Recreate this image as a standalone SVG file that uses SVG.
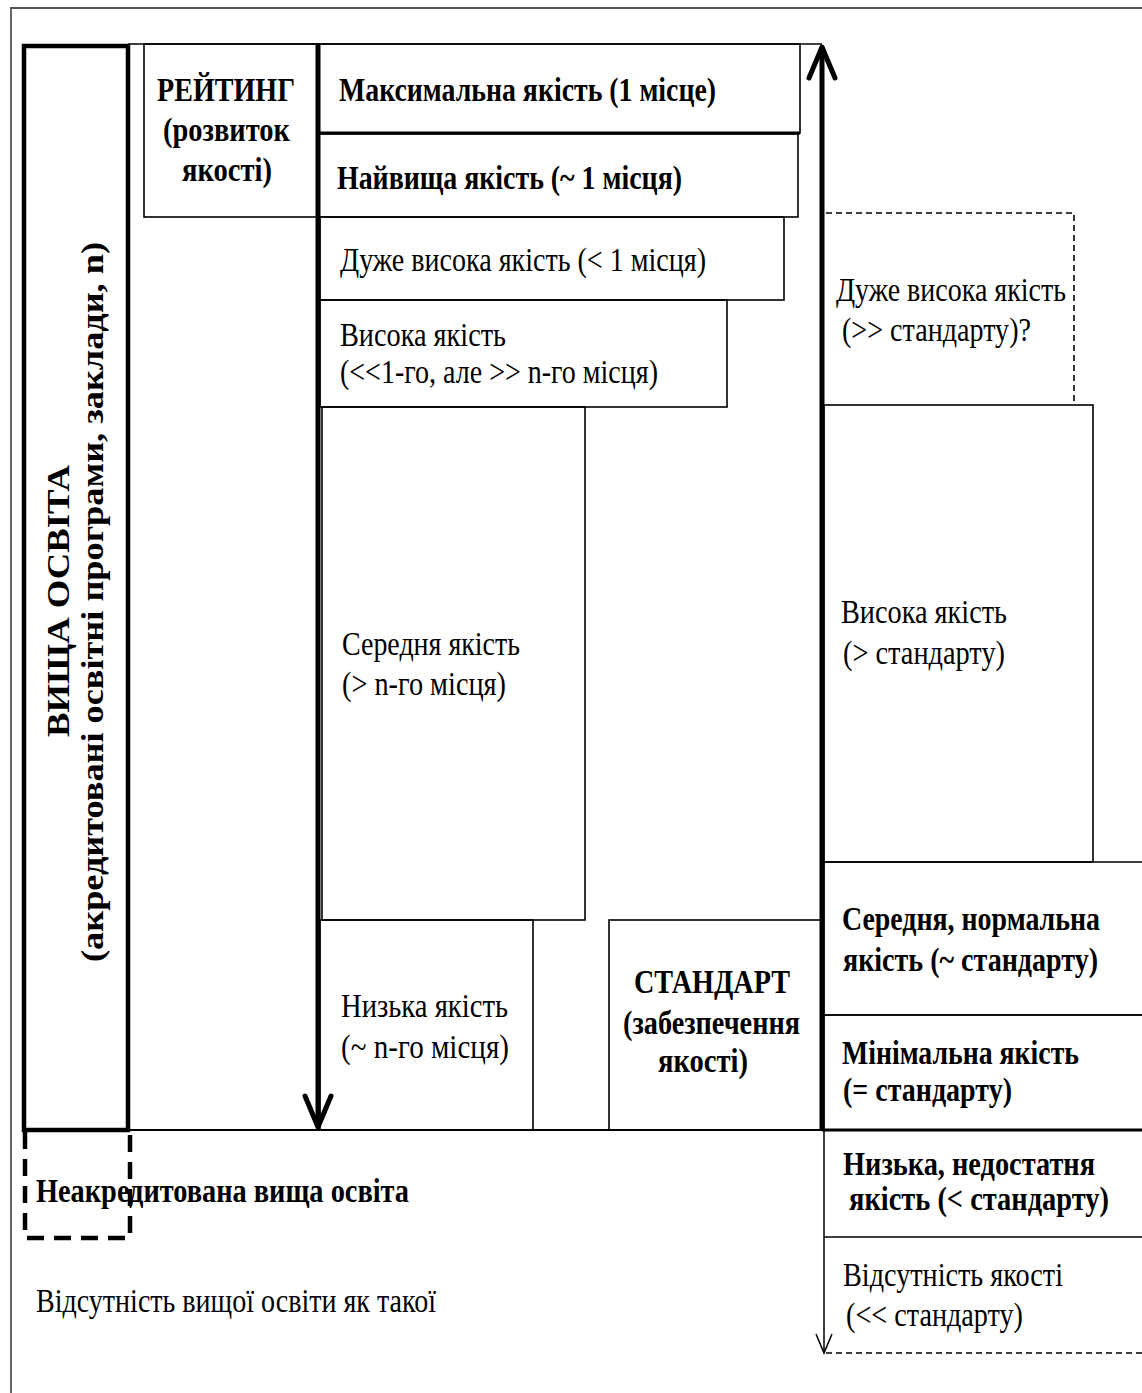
<svg xmlns="http://www.w3.org/2000/svg" width="1142" height="1393" viewBox="0 0 1142 1393">
<style>
.box{fill:none;stroke:#000;stroke-width:1.6}
.thick{fill:none;stroke:#000;stroke-width:3}
.dash{fill:none;stroke:#000;stroke-width:1.6;stroke-dasharray:6 4}
.b{font-family:"Liberation Serif","Times New Roman",serif;font-size:29px;font-weight:bold;fill:#000}
.r{font-family:"Liberation Serif","Times New Roman",serif;font-size:29px;fill:#000}
.v{font-family:"Liberation Serif","Times New Roman",serif;font-size:36px;font-weight:bold;fill:#000}
</style>
<defs>
<marker id="chev" markerUnits="userSpaceOnUse" markerWidth="40" markerHeight="40" refX="0" refY="0" orient="auto" overflow="visible">
<path d="M-31,-13 L0,0 L-31,13" fill="none" stroke="#000" stroke-width="5" stroke-linecap="round" stroke-linejoin="round"/>
</marker>
<marker id="thin" markerUnits="userSpaceOnUse" markerWidth="30" markerHeight="30" refX="0" refY="0" orient="auto" overflow="visible">
<path d="M-19,-8 L0,0 L-19,8" fill="none" stroke="#000" stroke-width="1.5"/>
</marker>
</defs>
<rect width="1142" height="1393" fill="#fff"/>
<path d="M11,1393 V8 H1142" fill="none" stroke="#555" stroke-width="1.8"/>

<g id="vyshcha-osvita">
<rect x="24" y="46" width="104" height="1084" fill="none" stroke="#000" stroke-width="4.5"/>
<text class="v" transform="translate(69,601) rotate(-90) scale(1,0.87)" text-anchor="middle" textLength="272" lengthAdjust="spacingAndGlyphs">ВИЩА ОСВІТА</text>
<text class="v" transform="translate(103,602) rotate(-90) scale(1,0.87)" text-anchor="middle" textLength="720" lengthAdjust="spacingAndGlyphs">(акредитовані освітні програми, заклади, n)</text>
</g>

<g id="rating">
<rect class="box" x="144" y="44" width="174" height="173"/>
<text class="b" transform="translate(157,101) scale(1,1.17)" textLength="138" lengthAdjust="spacingAndGlyphs">РЕЙТИНГ</text>
<text class="b" transform="translate(163,141) scale(1,1.17)" textLength="127" lengthAdjust="spacingAndGlyphs">(розвиток</text>
<text class="b" transform="translate(182,181) scale(1,1.17)" textLength="90" lengthAdjust="spacingAndGlyphs">якості)</text>
</g>

<g id="max-quality">
<rect class="box" x="318" y="44" width="482" height="89"/>
<line class="thick" x1="318" y1="133" x2="800" y2="133"/>
<text class="b" transform="translate(339,101) scale(1,1.17)" textLength="377" lengthAdjust="spacingAndGlyphs">Максимальна якість (1 місце)</text>
</g>

<g id="highest-quality">
<rect class="box" x="318" y="134" width="480" height="83"/>
<text class="b" transform="translate(337,189) scale(1,1.17)" textLength="345" lengthAdjust="spacingAndGlyphs">Найвища якість (~ 1 місця)</text>
</g>

<g id="very-high-rating">
<rect class="box" x="320" y="217" width="464" height="83"/>
<text class="r" transform="translate(340,271) scale(1,1.17)" textLength="366" lengthAdjust="spacingAndGlyphs">Дуже висока якість (&lt; 1 місця)</text>
</g>

<g id="high-rating">
<rect class="box" x="320" y="300" width="407" height="107"/>
<text class="r" transform="translate(340,346) scale(1,1.17)" textLength="166" lengthAdjust="spacingAndGlyphs">Висока якість</text>
<text class="r" transform="translate(340,383) scale(1,1.17)" textLength="318" lengthAdjust="spacingAndGlyphs">(&lt;&lt;1-го, але &gt;&gt; n-го місця)</text>
</g>

<g id="medium-rating">
<rect class="box" x="322" y="407" width="263" height="513"/>
<text class="r" transform="translate(342,655) scale(1,1.17)" textLength="178" lengthAdjust="spacingAndGlyphs">Середня якість</text>
<text class="r" transform="translate(342,695) scale(1,1.17)" textLength="164" lengthAdjust="spacingAndGlyphs">(&gt; n-го місця)</text>
</g>

<g id="low-rating">
<rect class="box" x="320" y="920" width="213" height="210"/>
<text class="r" transform="translate(341,1017) scale(1,1.17)" textLength="167" lengthAdjust="spacingAndGlyphs">Низька якість</text>
<text class="r" transform="translate(341,1058) scale(1,1.17)" textLength="168" lengthAdjust="spacingAndGlyphs">(~ n-го місця)</text>
</g>

<g id="standard">
<rect class="box" x="609" y="920" width="213" height="210"/>
<text class="b" transform="translate(634,993) scale(1,1.17)" textLength="156" lengthAdjust="spacingAndGlyphs">СТАНДАРТ</text>
<text class="b" transform="translate(623,1034) scale(1,1.17)" textLength="177" lengthAdjust="spacingAndGlyphs">(забезпечення</text>
<text class="b" transform="translate(658,1072) scale(1,1.17)" textLength="90" lengthAdjust="spacingAndGlyphs">якості)</text>
</g>

<g id="very-high-standard">
<path class="dash" d="M826,213 H1074 V405"/>
<text class="r" transform="translate(836,301) scale(1,1.17)" textLength="230" lengthAdjust="spacingAndGlyphs">Дуже висока якість</text>
<text class="r" transform="translate(842,341) scale(1,1.17)" textLength="189" lengthAdjust="spacingAndGlyphs">(&gt;&gt; стандарту)?</text>
</g>

<g id="high-standard">
<rect class="box" x="824" y="405" width="269" height="457"/>
<text class="r" transform="translate(841,623) scale(1,1.17)" textLength="166" lengthAdjust="spacingAndGlyphs">Висока якість</text>
<text class="r" transform="translate(843,664) scale(1,1.17)" textLength="162" lengthAdjust="spacingAndGlyphs">(&gt; стандарту)</text>
</g>

<g id="normal-standard">
<path class="box" d="M1142,862 H824 V1015 H1142"/>
<text class="b" transform="translate(842,930) scale(1,1.17)" textLength="258" lengthAdjust="spacingAndGlyphs">Середня, нормальна</text>
<text class="b" transform="translate(843,971) scale(1,1.17)" textLength="255" lengthAdjust="spacingAndGlyphs">якість (~ стандарту)</text>
</g>

<g id="minimal-standard">
<path class="box" d="M1142,1015 H824 V1130"/>
<text class="b" transform="translate(842,1064) scale(1,1.17)" textLength="237" lengthAdjust="spacingAndGlyphs">Мінімальна якість</text>
<text class="b" transform="translate(843,1101) scale(1,1.17)" textLength="169" lengthAdjust="spacingAndGlyphs">(= стандарту)</text>
</g>

<g id="low-standard">
<path class="box" d="M1142,1237 H824"/>
<text class="b" transform="translate(843,1175) scale(1,1.17)" textLength="252" lengthAdjust="spacingAndGlyphs">Низька, недостатня</text>
<text class="b" transform="translate(849,1210) scale(1,1.17)" textLength="260" lengthAdjust="spacingAndGlyphs">якість (&lt; стандарту)</text>
</g>

<g id="no-quality">
<path class="dash" d="M826,1353 H1142"/>
<text class="r" transform="translate(843,1286) scale(1,1.17)" textLength="220" lengthAdjust="spacingAndGlyphs">Відсутність якості</text>
<text class="r" transform="translate(846,1326) scale(1,1.17)" textLength="177" lengthAdjust="spacingAndGlyphs">(&lt;&lt; стандарту)</text>
</g>

<g id="unaccredited">
<text class="b" transform="translate(36,1202) scale(1,1.17)" textLength="373" lengthAdjust="spacingAndGlyphs">Неакредитована вища освіта</text>
<path d="M25,1132 V1238 H130 V1132" fill="none" stroke="#000" stroke-width="4.5" stroke-dasharray="17 10"/>
</g>

<g id="no-higher-education">
<text class="r" transform="translate(36,1312) scale(1,1.17)" textLength="400" lengthAdjust="spacingAndGlyphs">Відсутність вищої освіти як такої</text>
</g>

<g id="connectors">
<line x1="128" y1="44" x2="822" y2="44" stroke="#000" stroke-width="1.6"/>
<line x1="128" y1="1130" x2="822" y2="1130" stroke="#000" stroke-width="2"/>
<line x1="822" y1="1130" x2="1142" y2="1130" stroke="#000" stroke-width="3"/>
<line x1="318" y1="44" x2="318" y2="1127" stroke="#000" stroke-width="5" marker-end="url(#chev)"/>
<line x1="822" y1="1130" x2="822" y2="47" stroke="#000" stroke-width="5" marker-end="url(#chev)"/>
<line x1="824" y1="1130" x2="824" y2="1353" stroke="#000" stroke-width="1.5" marker-end="url(#thin)"/>
</g>
</svg>
